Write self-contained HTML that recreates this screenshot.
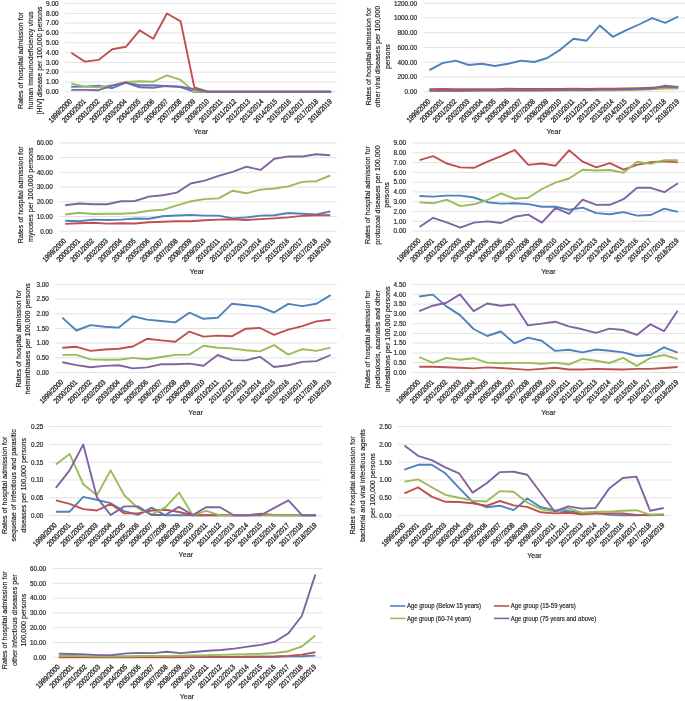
<!DOCTYPE html>
<html><head><meta charset="utf-8"><style>
html,body{margin:0;padding:0;background:#fff;}
body{width:685px;height:701px;overflow:hidden;}
svg{display:block;will-change:transform;}
.xl{stroke-width:0.3px;}
text{font-family:"Liberation Sans", sans-serif;fill:#262626;stroke:#262626;stroke-width:0.18px;}
</style></head><body>
<svg width="685" height="701" viewBox="0 0 685 701">
<rect width="685" height="701" fill="#fff"/>
<line x1="65.0" y1="91.80" x2="337.0" y2="91.80" stroke="#E2E2E2" stroke-width="1"/>
<line x1="65.0" y1="82.00" x2="337.0" y2="82.00" stroke="#E2E2E2" stroke-width="1"/>
<line x1="65.0" y1="72.19" x2="337.0" y2="72.19" stroke="#E2E2E2" stroke-width="1"/>
<line x1="65.0" y1="62.39" x2="337.0" y2="62.39" stroke="#E2E2E2" stroke-width="1"/>
<line x1="65.0" y1="52.58" x2="337.0" y2="52.58" stroke="#E2E2E2" stroke-width="1"/>
<line x1="65.0" y1="42.78" x2="337.0" y2="42.78" stroke="#E2E2E2" stroke-width="1"/>
<line x1="65.0" y1="32.97" x2="337.0" y2="32.97" stroke="#E2E2E2" stroke-width="1"/>
<line x1="65.0" y1="23.17" x2="337.0" y2="23.17" stroke="#E2E2E2" stroke-width="1"/>
<line x1="65.0" y1="13.36" x2="337.0" y2="13.36" stroke="#E2E2E2" stroke-width="1"/>
<line x1="65.0" y1="3.56" x2="337.0" y2="3.56" stroke="#E2E2E2" stroke-width="1"/>
<text x="58.5" y="94.10" text-anchor="end" font-size="6.40">0.00</text>
<text x="58.5" y="84.30" text-anchor="end" font-size="6.40">1.00</text>
<text x="58.5" y="74.49" text-anchor="end" font-size="6.40">2.00</text>
<text x="58.5" y="64.69" text-anchor="end" font-size="6.40">3.00</text>
<text x="58.5" y="54.88" text-anchor="end" font-size="6.40">4.00</text>
<text x="58.5" y="45.08" text-anchor="end" font-size="6.40">5.00</text>
<text x="58.5" y="35.27" text-anchor="end" font-size="6.40">6.00</text>
<text x="58.5" y="25.47" text-anchor="end" font-size="6.40">7.00</text>
<text x="58.5" y="15.66" text-anchor="end" font-size="6.40">8.00</text>
<text x="58.5" y="5.86" text-anchor="end" font-size="6.40">9.00</text>
<text x="72.6" y="102.0" text-anchor="end" class="xl" font-size="7.40" textLength="30.0" lengthAdjust="spacingAndGlyphs" transform="rotate(-45 72.6 102.0)">1999/2000</text>
<text x="86.3" y="102.0" text-anchor="end" class="xl" font-size="7.40" textLength="30.0" lengthAdjust="spacingAndGlyphs" transform="rotate(-45 86.3 102.0)">2000/2001</text>
<text x="100.0" y="102.0" text-anchor="end" class="xl" font-size="7.40" textLength="30.0" lengthAdjust="spacingAndGlyphs" transform="rotate(-45 100.0 102.0)">2001/2002</text>
<text x="113.6" y="102.0" text-anchor="end" class="xl" font-size="7.40" textLength="30.0" lengthAdjust="spacingAndGlyphs" transform="rotate(-45 113.6 102.0)">2002/2003</text>
<text x="127.3" y="102.0" text-anchor="end" class="xl" font-size="7.40" textLength="30.0" lengthAdjust="spacingAndGlyphs" transform="rotate(-45 127.3 102.0)">2003/2004</text>
<text x="141.0" y="102.0" text-anchor="end" class="xl" font-size="7.40" textLength="30.0" lengthAdjust="spacingAndGlyphs" transform="rotate(-45 141.0 102.0)">2004/2005</text>
<text x="154.7" y="102.0" text-anchor="end" class="xl" font-size="7.40" textLength="30.0" lengthAdjust="spacingAndGlyphs" transform="rotate(-45 154.7 102.0)">2005/2006</text>
<text x="168.4" y="102.0" text-anchor="end" class="xl" font-size="7.40" textLength="30.0" lengthAdjust="spacingAndGlyphs" transform="rotate(-45 168.4 102.0)">2006/2007</text>
<text x="182.0" y="102.0" text-anchor="end" class="xl" font-size="7.40" textLength="30.0" lengthAdjust="spacingAndGlyphs" transform="rotate(-45 182.0 102.0)">2007/2008</text>
<text x="195.7" y="102.0" text-anchor="end" class="xl" font-size="7.40" textLength="30.0" lengthAdjust="spacingAndGlyphs" transform="rotate(-45 195.7 102.0)">2008/2009</text>
<text x="209.4" y="102.0" text-anchor="end" class="xl" font-size="7.40" textLength="30.0" lengthAdjust="spacingAndGlyphs" transform="rotate(-45 209.4 102.0)">2009/2010</text>
<text x="223.1" y="102.0" text-anchor="end" class="xl" font-size="7.40" textLength="30.0" lengthAdjust="spacingAndGlyphs" transform="rotate(-45 223.1 102.0)">2010/2011</text>
<text x="236.8" y="102.0" text-anchor="end" class="xl" font-size="7.40" textLength="30.0" lengthAdjust="spacingAndGlyphs" transform="rotate(-45 236.8 102.0)">2011/2012</text>
<text x="250.4" y="102.0" text-anchor="end" class="xl" font-size="7.40" textLength="30.0" lengthAdjust="spacingAndGlyphs" transform="rotate(-45 250.4 102.0)">2012/2013</text>
<text x="264.1" y="102.0" text-anchor="end" class="xl" font-size="7.40" textLength="30.0" lengthAdjust="spacingAndGlyphs" transform="rotate(-45 264.1 102.0)">2013/2014</text>
<text x="277.8" y="102.0" text-anchor="end" class="xl" font-size="7.40" textLength="30.0" lengthAdjust="spacingAndGlyphs" transform="rotate(-45 277.8 102.0)">2014/2015</text>
<text x="291.5" y="102.0" text-anchor="end" class="xl" font-size="7.40" textLength="30.0" lengthAdjust="spacingAndGlyphs" transform="rotate(-45 291.5 102.0)">2015/2016</text>
<text x="305.2" y="102.0" text-anchor="end" class="xl" font-size="7.40" textLength="30.0" lengthAdjust="spacingAndGlyphs" transform="rotate(-45 305.2 102.0)">2016/2017</text>
<text x="318.8" y="102.0" text-anchor="end" class="xl" font-size="7.40" textLength="30.0" lengthAdjust="spacingAndGlyphs" transform="rotate(-45 318.8 102.0)">2017/2018</text>
<text x="332.5" y="102.0" text-anchor="end" class="xl" font-size="7.40" textLength="30.0" lengthAdjust="spacingAndGlyphs" transform="rotate(-45 332.5 102.0)">2018/2019</text>
<text x="22.6" y="60.5" text-anchor="middle" font-size="7.50" transform="rotate(-90 22.6 60.5)" textLength="96.9" lengthAdjust="spacingAndGlyphs">Rates of hospital admission for</text>
<text x="32.9" y="60.5" text-anchor="middle" font-size="7.50" transform="rotate(-90 32.9 60.5)" textLength="98.0" lengthAdjust="spacingAndGlyphs">human immunodeficiency virus</text>
<text x="42.1" y="60.5" text-anchor="middle" font-size="7.50" transform="rotate(-90 42.1 60.5)" textLength="107.8" lengthAdjust="spacingAndGlyphs">[HIV] disease per 100,000 persons</text>
<text x="201.0" y="133.8" text-anchor="middle" font-size="7.70" textLength="14.5" lengthAdjust="spacingAndGlyphs">Year</text>
<polyline points="71.20,86.70 84.88,86.60 98.56,85.60 112.24,88.20 125.92,82.70 139.60,85.20 153.28,85.20 166.96,86.30 180.64,87.00 194.32,91.80 208.00,91.80 221.68,91.80 235.36,91.80 249.04,91.80 262.72,91.80 276.40,91.80 290.08,91.80 303.76,91.80 317.44,91.80 331.12,91.80" fill="none" stroke="#4F81BD" stroke-width="1.90" stroke-linejoin="round" stroke-linecap="butt"/>
<polyline points="71.20,52.80 84.88,61.60 98.56,59.90 112.24,49.20 125.92,46.80 139.60,30.40 153.28,38.80 166.96,13.55 180.64,21.40 194.32,87.30 208.00,91.70 221.68,91.80 235.36,91.80 249.04,91.80 262.72,91.80 276.40,91.80 290.08,91.80 303.76,91.80 317.44,91.80 331.12,91.80" fill="none" stroke="#C0504D" stroke-width="1.90" stroke-linejoin="round" stroke-linecap="butt"/>
<polyline points="71.20,83.50 84.88,86.60 98.56,87.40 112.24,85.30 125.92,82.00 139.60,81.30 153.28,81.70 166.96,75.30 180.64,79.90 194.32,91.70 208.00,91.80 221.68,91.80 235.36,91.80 249.04,91.80 262.72,91.80 276.40,91.80 290.08,91.80 303.76,91.80 317.44,91.80 331.12,91.80" fill="none" stroke="#9BBB59" stroke-width="1.90" stroke-linejoin="round" stroke-linecap="butt"/>
<polyline points="71.20,89.90 84.88,89.90 98.56,90.20 112.24,85.60 125.92,82.50 139.60,87.30 153.28,87.70 166.96,85.90 180.64,86.60 194.32,89.20 208.00,91.70 221.68,91.80 235.36,91.80 249.04,91.80 262.72,91.80 276.40,91.80 290.08,91.80 303.76,91.80 317.44,91.80 331.12,91.80" fill="none" stroke="#8064A2" stroke-width="1.90" stroke-linejoin="round" stroke-linecap="butt"/>
<line x1="423.4" y1="91.70" x2="685.0" y2="91.70" stroke="#E2E2E2" stroke-width="1"/>
<line x1="423.4" y1="76.95" x2="685.0" y2="76.95" stroke="#E2E2E2" stroke-width="1"/>
<line x1="423.4" y1="62.20" x2="685.0" y2="62.20" stroke="#E2E2E2" stroke-width="1"/>
<line x1="423.4" y1="47.45" x2="685.0" y2="47.45" stroke="#E2E2E2" stroke-width="1"/>
<line x1="423.4" y1="32.70" x2="685.0" y2="32.70" stroke="#E2E2E2" stroke-width="1"/>
<line x1="423.4" y1="17.95" x2="685.0" y2="17.95" stroke="#E2E2E2" stroke-width="1"/>
<line x1="423.4" y1="3.20" x2="685.0" y2="3.20" stroke="#E2E2E2" stroke-width="1"/>
<text x="417.0" y="94.00" text-anchor="end" font-size="6.40">0.00</text>
<text x="417.0" y="79.25" text-anchor="end" font-size="6.40">200.00</text>
<text x="417.0" y="64.50" text-anchor="end" font-size="6.40">400.00</text>
<text x="417.0" y="49.75" text-anchor="end" font-size="6.40">600.00</text>
<text x="417.0" y="35.00" text-anchor="end" font-size="6.40">800.00</text>
<text x="417.0" y="20.25" text-anchor="end" font-size="6.40">1000.00</text>
<text x="417.0" y="5.50" text-anchor="end" font-size="6.40">1200.00</text>
<text x="430.8" y="101.9" text-anchor="end" class="xl" font-size="7.40" textLength="30.0" lengthAdjust="spacingAndGlyphs" transform="rotate(-45 430.8 101.9)">1999/2000</text>
<text x="443.9" y="101.9" text-anchor="end" class="xl" font-size="7.40" textLength="30.0" lengthAdjust="spacingAndGlyphs" transform="rotate(-45 443.9 101.9)">2000/2001</text>
<text x="457.0" y="101.9" text-anchor="end" class="xl" font-size="7.40" textLength="30.0" lengthAdjust="spacingAndGlyphs" transform="rotate(-45 457.0 101.9)">2001/2002</text>
<text x="470.1" y="101.9" text-anchor="end" class="xl" font-size="7.40" textLength="30.0" lengthAdjust="spacingAndGlyphs" transform="rotate(-45 470.1 101.9)">2002/2003</text>
<text x="483.2" y="101.9" text-anchor="end" class="xl" font-size="7.40" textLength="30.0" lengthAdjust="spacingAndGlyphs" transform="rotate(-45 483.2 101.9)">2003/2004</text>
<text x="496.3" y="101.9" text-anchor="end" class="xl" font-size="7.40" textLength="30.0" lengthAdjust="spacingAndGlyphs" transform="rotate(-45 496.3 101.9)">2004/2005</text>
<text x="509.4" y="101.9" text-anchor="end" class="xl" font-size="7.40" textLength="30.0" lengthAdjust="spacingAndGlyphs" transform="rotate(-45 509.4 101.9)">2005/2006</text>
<text x="522.5" y="101.9" text-anchor="end" class="xl" font-size="7.40" textLength="30.0" lengthAdjust="spacingAndGlyphs" transform="rotate(-45 522.5 101.9)">2006/2007</text>
<text x="535.6" y="101.9" text-anchor="end" class="xl" font-size="7.40" textLength="30.0" lengthAdjust="spacingAndGlyphs" transform="rotate(-45 535.6 101.9)">2007/2008</text>
<text x="548.7" y="101.9" text-anchor="end" class="xl" font-size="7.40" textLength="30.0" lengthAdjust="spacingAndGlyphs" transform="rotate(-45 548.7 101.9)">2008/2009</text>
<text x="561.8" y="101.9" text-anchor="end" class="xl" font-size="7.40" textLength="30.0" lengthAdjust="spacingAndGlyphs" transform="rotate(-45 561.8 101.9)">2009/2010</text>
<text x="574.9" y="101.9" text-anchor="end" class="xl" font-size="7.40" textLength="30.0" lengthAdjust="spacingAndGlyphs" transform="rotate(-45 574.9 101.9)">2010/2011</text>
<text x="588.0" y="101.9" text-anchor="end" class="xl" font-size="7.40" textLength="30.0" lengthAdjust="spacingAndGlyphs" transform="rotate(-45 588.0 101.9)">2011/2012</text>
<text x="601.1" y="101.9" text-anchor="end" class="xl" font-size="7.40" textLength="30.0" lengthAdjust="spacingAndGlyphs" transform="rotate(-45 601.1 101.9)">2012/2013</text>
<text x="614.2" y="101.9" text-anchor="end" class="xl" font-size="7.40" textLength="30.0" lengthAdjust="spacingAndGlyphs" transform="rotate(-45 614.2 101.9)">2013/2014</text>
<text x="627.3" y="101.9" text-anchor="end" class="xl" font-size="7.40" textLength="30.0" lengthAdjust="spacingAndGlyphs" transform="rotate(-45 627.3 101.9)">2014/2015</text>
<text x="640.4" y="101.9" text-anchor="end" class="xl" font-size="7.40" textLength="30.0" lengthAdjust="spacingAndGlyphs" transform="rotate(-45 640.4 101.9)">2015/2016</text>
<text x="653.5" y="101.9" text-anchor="end" class="xl" font-size="7.40" textLength="30.0" lengthAdjust="spacingAndGlyphs" transform="rotate(-45 653.5 101.9)">2016/2017</text>
<text x="666.6" y="101.9" text-anchor="end" class="xl" font-size="7.40" textLength="30.0" lengthAdjust="spacingAndGlyphs" transform="rotate(-45 666.6 101.9)">2017/2018</text>
<text x="679.7" y="101.9" text-anchor="end" class="xl" font-size="7.40" textLength="30.0" lengthAdjust="spacingAndGlyphs" transform="rotate(-45 679.7 101.9)">2018/2019</text>
<text x="370.8" y="56.6" text-anchor="middle" font-size="7.50" transform="rotate(-90 370.8 56.6)" textLength="98.0" lengthAdjust="spacingAndGlyphs">Rates of hospital admission for</text>
<text x="380.2" y="56.6" text-anchor="middle" font-size="7.50" transform="rotate(-90 380.2 56.6)" textLength="101.6" lengthAdjust="spacingAndGlyphs">other viral diseases per 100,000</text>
<text x="389.7" y="56.6" text-anchor="middle" font-size="7.50" transform="rotate(-90 389.7 56.6)" textLength="24.8" lengthAdjust="spacingAndGlyphs">persons</text>
<text x="553.7" y="133.8" text-anchor="middle" font-size="7.70" textLength="14.5" lengthAdjust="spacingAndGlyphs">Year</text>
<polyline points="429.40,70.10 442.50,63.10 455.60,60.60 468.70,65.00 481.80,63.80 494.90,66.00 508.00,63.80 521.10,60.60 534.20,62.00 547.30,58.00 560.40,49.60 573.50,38.70 586.60,40.70 599.70,25.50 612.80,36.80 625.90,30.40 639.00,24.50 652.10,18.20 665.20,22.90 678.30,16.50" fill="none" stroke="#4F81BD" stroke-width="1.90" stroke-linejoin="round" stroke-linecap="butt"/>
<polyline points="429.40,89.20 442.50,89.00 455.60,89.10 468.70,89.30 481.80,89.20 494.90,89.10 508.00,88.80 521.10,89.00 534.20,89.00 547.30,89.00 560.40,88.90 573.50,88.80 586.60,89.00 599.70,88.60 612.80,88.80 625.90,88.50 639.00,88.20 652.10,87.80 665.20,87.20 678.30,87.30" fill="none" stroke="#C0504D" stroke-width="1.90" stroke-linejoin="round" stroke-linecap="butt"/>
<polyline points="429.40,91.00 442.50,91.00 455.60,91.00 468.70,91.00 481.80,90.90 494.90,90.90 508.00,90.80 521.10,90.80 534.20,90.70 547.30,90.70 560.40,90.60 573.50,90.60 586.60,90.50 599.70,90.30 612.80,90.20 625.90,90.00 639.00,89.80 652.10,89.40 665.20,88.60 678.30,88.60" fill="none" stroke="#9BBB59" stroke-width="1.90" stroke-linejoin="round" stroke-linecap="butt"/>
<polyline points="429.40,90.50 442.50,90.70 455.60,90.70 468.70,90.60 481.80,90.40 494.90,90.40 508.00,90.30 521.10,90.30 534.20,90.20 547.30,90.10 560.40,90.00 573.50,89.90 586.60,90.00 599.70,89.60 612.80,89.60 625.90,89.30 639.00,89.00 652.10,88.50 665.20,85.80 678.30,86.90" fill="none" stroke="#8064A2" stroke-width="1.90" stroke-linejoin="round" stroke-linecap="butt"/>
<line x1="59.1" y1="231.20" x2="337.0" y2="231.20" stroke="#E2E2E2" stroke-width="1"/>
<line x1="59.1" y1="216.48" x2="337.0" y2="216.48" stroke="#E2E2E2" stroke-width="1"/>
<line x1="59.1" y1="201.77" x2="337.0" y2="201.77" stroke="#E2E2E2" stroke-width="1"/>
<line x1="59.1" y1="187.05" x2="337.0" y2="187.05" stroke="#E2E2E2" stroke-width="1"/>
<line x1="59.1" y1="172.33" x2="337.0" y2="172.33" stroke="#E2E2E2" stroke-width="1"/>
<line x1="59.1" y1="157.62" x2="337.0" y2="157.62" stroke="#E2E2E2" stroke-width="1"/>
<line x1="59.1" y1="142.90" x2="337.0" y2="142.90" stroke="#E2E2E2" stroke-width="1"/>
<text x="52.7" y="233.50" text-anchor="end" font-size="6.40">0.00</text>
<text x="52.7" y="218.78" text-anchor="end" font-size="6.40">10.00</text>
<text x="52.7" y="204.07" text-anchor="end" font-size="6.40">20.00</text>
<text x="52.7" y="189.35" text-anchor="end" font-size="6.40">30.00</text>
<text x="52.7" y="174.63" text-anchor="end" font-size="6.40">40.00</text>
<text x="52.7" y="159.92" text-anchor="end" font-size="6.40">50.00</text>
<text x="52.7" y="145.20" text-anchor="end" font-size="6.40">60.00</text>
<text x="66.6" y="241.4" text-anchor="end" class="xl" font-size="7.40" textLength="30.0" lengthAdjust="spacingAndGlyphs" transform="rotate(-45 66.6 241.4)">1999/2000</text>
<text x="80.6" y="241.4" text-anchor="end" class="xl" font-size="7.40" textLength="30.0" lengthAdjust="spacingAndGlyphs" transform="rotate(-45 80.6 241.4)">2000/2001</text>
<text x="94.5" y="241.4" text-anchor="end" class="xl" font-size="7.40" textLength="30.0" lengthAdjust="spacingAndGlyphs" transform="rotate(-45 94.5 241.4)">2001/2002</text>
<text x="108.5" y="241.4" text-anchor="end" class="xl" font-size="7.40" textLength="30.0" lengthAdjust="spacingAndGlyphs" transform="rotate(-45 108.5 241.4)">2002/2003</text>
<text x="122.4" y="241.4" text-anchor="end" class="xl" font-size="7.40" textLength="30.0" lengthAdjust="spacingAndGlyphs" transform="rotate(-45 122.4 241.4)">2003/2004</text>
<text x="136.3" y="241.4" text-anchor="end" class="xl" font-size="7.40" textLength="30.0" lengthAdjust="spacingAndGlyphs" transform="rotate(-45 136.3 241.4)">2004/2005</text>
<text x="150.3" y="241.4" text-anchor="end" class="xl" font-size="7.40" textLength="30.0" lengthAdjust="spacingAndGlyphs" transform="rotate(-45 150.3 241.4)">2005/2006</text>
<text x="164.2" y="241.4" text-anchor="end" class="xl" font-size="7.40" textLength="30.0" lengthAdjust="spacingAndGlyphs" transform="rotate(-45 164.2 241.4)">2006/2007</text>
<text x="178.2" y="241.4" text-anchor="end" class="xl" font-size="7.40" textLength="30.0" lengthAdjust="spacingAndGlyphs" transform="rotate(-45 178.2 241.4)">2007/2008</text>
<text x="192.2" y="241.4" text-anchor="end" class="xl" font-size="7.40" textLength="30.0" lengthAdjust="spacingAndGlyphs" transform="rotate(-45 192.2 241.4)">2008/2009</text>
<text x="206.1" y="241.4" text-anchor="end" class="xl" font-size="7.40" textLength="30.0" lengthAdjust="spacingAndGlyphs" transform="rotate(-45 206.1 241.4)">2009/2010</text>
<text x="220.0" y="241.4" text-anchor="end" class="xl" font-size="7.40" textLength="30.0" lengthAdjust="spacingAndGlyphs" transform="rotate(-45 220.0 241.4)">2010/2011</text>
<text x="234.0" y="241.4" text-anchor="end" class="xl" font-size="7.40" textLength="30.0" lengthAdjust="spacingAndGlyphs" transform="rotate(-45 234.0 241.4)">2011/2012</text>
<text x="248.0" y="241.4" text-anchor="end" class="xl" font-size="7.40" textLength="30.0" lengthAdjust="spacingAndGlyphs" transform="rotate(-45 248.0 241.4)">2012/2013</text>
<text x="261.9" y="241.4" text-anchor="end" class="xl" font-size="7.40" textLength="30.0" lengthAdjust="spacingAndGlyphs" transform="rotate(-45 261.9 241.4)">2013/2014</text>
<text x="275.8" y="241.4" text-anchor="end" class="xl" font-size="7.40" textLength="30.0" lengthAdjust="spacingAndGlyphs" transform="rotate(-45 275.8 241.4)">2014/2015</text>
<text x="289.8" y="241.4" text-anchor="end" class="xl" font-size="7.40" textLength="30.0" lengthAdjust="spacingAndGlyphs" transform="rotate(-45 289.8 241.4)">2015/2016</text>
<text x="303.7" y="241.4" text-anchor="end" class="xl" font-size="7.40" textLength="30.0" lengthAdjust="spacingAndGlyphs" transform="rotate(-45 303.7 241.4)">2016/2017</text>
<text x="317.7" y="241.4" text-anchor="end" class="xl" font-size="7.40" textLength="30.0" lengthAdjust="spacingAndGlyphs" transform="rotate(-45 317.7 241.4)">2017/2018</text>
<text x="331.6" y="241.4" text-anchor="end" class="xl" font-size="7.40" textLength="30.0" lengthAdjust="spacingAndGlyphs" transform="rotate(-45 331.6 241.4)">2018/2019</text>
<text x="22.8" y="194.8" text-anchor="middle" font-size="7.50" transform="rotate(-90 22.8 194.8)" textLength="96.7" lengthAdjust="spacingAndGlyphs">Rates of hospital admission for</text>
<text x="33.0" y="194.8" text-anchor="middle" font-size="7.50" transform="rotate(-90 33.0 194.8)" textLength="94.4" lengthAdjust="spacingAndGlyphs">mycoses per 100,000 persons</text>
<text x="197.0" y="274.3" text-anchor="middle" font-size="7.70" textLength="14.5" lengthAdjust="spacingAndGlyphs">Year</text>
<polyline points="65.20,220.70 79.15,221.30 93.10,219.60 107.05,220.00 121.00,219.60 134.95,218.50 148.90,218.80 162.85,216.20 176.80,215.50 190.75,214.90 204.70,215.60 218.65,215.60 232.60,218.40 246.55,217.40 260.50,215.60 274.45,215.20 288.40,213.00 302.35,213.70 316.30,214.50 330.25,211.50" fill="none" stroke="#4F81BD" stroke-width="1.90" stroke-linejoin="round" stroke-linecap="butt"/>
<polyline points="65.20,223.90 79.15,223.20 93.10,222.80 107.05,223.60 121.00,223.20 134.95,223.50 148.90,222.20 162.85,221.80 176.80,221.30 190.75,221.30 204.70,220.30 218.65,219.60 232.60,219.30 246.55,220.00 260.50,219.10 274.45,218.40 288.40,217.40 302.35,215.90 316.30,215.20 330.25,215.20" fill="none" stroke="#C0504D" stroke-width="1.90" stroke-linejoin="round" stroke-linecap="butt"/>
<polyline points="65.20,214.50 79.15,212.70 93.10,214.00 107.05,213.70 121.00,213.70 134.95,213.00 148.90,210.80 162.85,209.80 176.80,205.30 190.75,201.30 204.70,199.10 218.65,198.40 232.60,190.70 246.55,193.30 260.50,189.60 274.45,188.50 288.40,186.40 302.35,181.90 316.30,181.20 330.25,175.50" fill="none" stroke="#9BBB59" stroke-width="1.90" stroke-linejoin="round" stroke-linecap="butt"/>
<polyline points="65.20,205.30 79.15,203.50 93.10,204.20 107.05,204.20 121.00,201.30 134.95,201.00 148.90,196.60 162.85,195.20 176.80,192.60 190.75,183.50 204.70,180.60 218.65,175.80 232.60,171.80 246.55,166.70 260.50,169.90 274.45,158.70 288.40,156.40 302.35,156.50 316.30,154.20 330.25,155.30" fill="none" stroke="#8064A2" stroke-width="1.90" stroke-linejoin="round" stroke-linecap="butt"/>
<line x1="412.9" y1="231.10" x2="685.0" y2="231.10" stroke="#E2E2E2" stroke-width="1"/>
<line x1="412.9" y1="221.31" x2="685.0" y2="221.31" stroke="#E2E2E2" stroke-width="1"/>
<line x1="412.9" y1="211.52" x2="685.0" y2="211.52" stroke="#E2E2E2" stroke-width="1"/>
<line x1="412.9" y1="201.73" x2="685.0" y2="201.73" stroke="#E2E2E2" stroke-width="1"/>
<line x1="412.9" y1="191.94" x2="685.0" y2="191.94" stroke="#E2E2E2" stroke-width="1"/>
<line x1="412.9" y1="182.16" x2="685.0" y2="182.16" stroke="#E2E2E2" stroke-width="1"/>
<line x1="412.9" y1="172.37" x2="685.0" y2="172.37" stroke="#E2E2E2" stroke-width="1"/>
<line x1="412.9" y1="162.58" x2="685.0" y2="162.58" stroke="#E2E2E2" stroke-width="1"/>
<line x1="412.9" y1="152.79" x2="685.0" y2="152.79" stroke="#E2E2E2" stroke-width="1"/>
<line x1="412.9" y1="143.00" x2="685.0" y2="143.00" stroke="#E2E2E2" stroke-width="1"/>
<text x="406.0" y="233.40" text-anchor="end" font-size="6.40">0.00</text>
<text x="406.0" y="223.61" text-anchor="end" font-size="6.40">1.00</text>
<text x="406.0" y="213.82" text-anchor="end" font-size="6.40">2.00</text>
<text x="406.0" y="204.03" text-anchor="end" font-size="6.40">3.00</text>
<text x="406.0" y="194.24" text-anchor="end" font-size="6.40">4.00</text>
<text x="406.0" y="184.46" text-anchor="end" font-size="6.40">5.00</text>
<text x="406.0" y="174.67" text-anchor="end" font-size="6.40">6.00</text>
<text x="406.0" y="164.88" text-anchor="end" font-size="6.40">7.00</text>
<text x="406.0" y="155.09" text-anchor="end" font-size="6.40">8.00</text>
<text x="406.0" y="145.30" text-anchor="end" font-size="6.40">9.00</text>
<text x="420.9" y="241.3" text-anchor="end" class="xl" font-size="7.40" textLength="30.0" lengthAdjust="spacingAndGlyphs" transform="rotate(-45 420.9 241.3)">1999/2000</text>
<text x="434.5" y="241.3" text-anchor="end" class="xl" font-size="7.40" textLength="30.0" lengthAdjust="spacingAndGlyphs" transform="rotate(-45 434.5 241.3)">2000/2001</text>
<text x="448.1" y="241.3" text-anchor="end" class="xl" font-size="7.40" textLength="30.0" lengthAdjust="spacingAndGlyphs" transform="rotate(-45 448.1 241.3)">2001/2002</text>
<text x="461.7" y="241.3" text-anchor="end" class="xl" font-size="7.40" textLength="30.0" lengthAdjust="spacingAndGlyphs" transform="rotate(-45 461.7 241.3)">2002/2003</text>
<text x="475.3" y="241.3" text-anchor="end" class="xl" font-size="7.40" textLength="30.0" lengthAdjust="spacingAndGlyphs" transform="rotate(-45 475.3 241.3)">2003/2004</text>
<text x="488.9" y="241.3" text-anchor="end" class="xl" font-size="7.40" textLength="30.0" lengthAdjust="spacingAndGlyphs" transform="rotate(-45 488.9 241.3)">2004/2005</text>
<text x="502.5" y="241.3" text-anchor="end" class="xl" font-size="7.40" textLength="30.0" lengthAdjust="spacingAndGlyphs" transform="rotate(-45 502.5 241.3)">2005/2006</text>
<text x="516.1" y="241.3" text-anchor="end" class="xl" font-size="7.40" textLength="30.0" lengthAdjust="spacingAndGlyphs" transform="rotate(-45 516.1 241.3)">2006/2007</text>
<text x="529.7" y="241.3" text-anchor="end" class="xl" font-size="7.40" textLength="30.0" lengthAdjust="spacingAndGlyphs" transform="rotate(-45 529.7 241.3)">2007/2008</text>
<text x="543.3" y="241.3" text-anchor="end" class="xl" font-size="7.40" textLength="30.0" lengthAdjust="spacingAndGlyphs" transform="rotate(-45 543.3 241.3)">2008/2009</text>
<text x="556.9" y="241.3" text-anchor="end" class="xl" font-size="7.40" textLength="30.0" lengthAdjust="spacingAndGlyphs" transform="rotate(-45 556.9 241.3)">2009/2010</text>
<text x="570.5" y="241.3" text-anchor="end" class="xl" font-size="7.40" textLength="30.0" lengthAdjust="spacingAndGlyphs" transform="rotate(-45 570.5 241.3)">2010/2011</text>
<text x="584.1" y="241.3" text-anchor="end" class="xl" font-size="7.40" textLength="30.0" lengthAdjust="spacingAndGlyphs" transform="rotate(-45 584.1 241.3)">2011/2012</text>
<text x="597.7" y="241.3" text-anchor="end" class="xl" font-size="7.40" textLength="30.0" lengthAdjust="spacingAndGlyphs" transform="rotate(-45 597.7 241.3)">2012/2013</text>
<text x="611.3" y="241.3" text-anchor="end" class="xl" font-size="7.40" textLength="30.0" lengthAdjust="spacingAndGlyphs" transform="rotate(-45 611.3 241.3)">2013/2014</text>
<text x="624.9" y="241.3" text-anchor="end" class="xl" font-size="7.40" textLength="30.0" lengthAdjust="spacingAndGlyphs" transform="rotate(-45 624.9 241.3)">2014/2015</text>
<text x="638.5" y="241.3" text-anchor="end" class="xl" font-size="7.40" textLength="30.0" lengthAdjust="spacingAndGlyphs" transform="rotate(-45 638.5 241.3)">2015/2016</text>
<text x="652.1" y="241.3" text-anchor="end" class="xl" font-size="7.40" textLength="30.0" lengthAdjust="spacingAndGlyphs" transform="rotate(-45 652.1 241.3)">2016/2017</text>
<text x="665.7" y="241.3" text-anchor="end" class="xl" font-size="7.40" textLength="30.0" lengthAdjust="spacingAndGlyphs" transform="rotate(-45 665.7 241.3)">2017/2018</text>
<text x="679.3" y="241.3" text-anchor="end" class="xl" font-size="7.40" textLength="30.0" lengthAdjust="spacingAndGlyphs" transform="rotate(-45 679.3 241.3)">2018/2019</text>
<text x="370.0" y="195.0" text-anchor="middle" font-size="7.50" transform="rotate(-90 370.0 195.0)" textLength="97.9" lengthAdjust="spacingAndGlyphs">Rates of hospital admission for</text>
<text x="379.8" y="195.0" text-anchor="middle" font-size="7.50" transform="rotate(-90 379.8 195.0)" textLength="99.3" lengthAdjust="spacingAndGlyphs">protozoal diseases per 100,000</text>
<text x="389.3" y="195.0" text-anchor="middle" font-size="7.50" transform="rotate(-90 389.3 195.0)" textLength="25.7" lengthAdjust="spacingAndGlyphs">persons</text>
<text x="548.5" y="273.6" text-anchor="middle" font-size="7.70" textLength="14.5" lengthAdjust="spacingAndGlyphs">Year</text>
<polyline points="419.50,196.00 433.10,196.60 446.70,195.60 460.30,195.60 473.90,197.50 487.50,202.20 501.10,203.60 514.70,203.30 528.30,204.10 541.90,206.80 555.50,206.80 569.10,209.70 582.70,207.60 596.30,213.10 609.90,214.30 623.50,212.10 637.10,215.60 650.70,215.00 664.30,208.70 677.90,211.90" fill="none" stroke="#4F81BD" stroke-width="1.90" stroke-linejoin="round" stroke-linecap="butt"/>
<polyline points="419.50,160.10 433.10,156.20 446.70,163.50 460.30,167.40 473.90,167.80 487.50,161.70 501.10,156.20 514.70,150.00 528.30,164.90 541.90,163.50 555.50,165.70 569.10,150.30 582.70,161.70 596.30,167.40 609.90,163.20 623.50,169.70 637.10,164.90 650.70,162.30 664.30,161.30 677.90,162.40" fill="none" stroke="#C0504D" stroke-width="1.90" stroke-linejoin="round" stroke-linecap="butt"/>
<polyline points="419.50,202.40 433.10,203.30 446.70,199.70 460.30,206.10 473.90,204.30 487.50,200.00 501.10,193.40 514.70,198.80 528.30,197.80 541.90,189.00 555.50,182.70 569.10,178.50 582.70,169.70 596.30,170.50 609.90,170.00 623.50,172.70 637.10,161.70 650.70,163.90 664.30,160.10 677.90,160.30" fill="none" stroke="#9BBB59" stroke-width="1.90" stroke-linejoin="round" stroke-linecap="butt"/>
<polyline points="419.50,227.00 433.10,217.80 446.70,222.30 460.30,227.70 473.90,222.60 487.50,221.40 501.10,223.00 514.70,216.80 528.30,214.60 541.90,222.60 555.50,208.00 569.10,213.80 582.70,199.70 596.30,204.90 609.90,204.80 623.50,199.20 637.10,187.80 650.70,187.80 664.30,192.20 677.90,183.20" fill="none" stroke="#8064A2" stroke-width="1.90" stroke-linejoin="round" stroke-linecap="butt"/>
<line x1="55.5" y1="372.50" x2="337.1" y2="372.50" stroke="#E2E2E2" stroke-width="1"/>
<line x1="55.5" y1="357.83" x2="337.1" y2="357.83" stroke="#E2E2E2" stroke-width="1"/>
<line x1="55.5" y1="343.17" x2="337.1" y2="343.17" stroke="#E2E2E2" stroke-width="1"/>
<line x1="55.5" y1="328.50" x2="337.1" y2="328.50" stroke="#E2E2E2" stroke-width="1"/>
<line x1="55.5" y1="313.83" x2="337.1" y2="313.83" stroke="#E2E2E2" stroke-width="1"/>
<line x1="55.5" y1="299.17" x2="337.1" y2="299.17" stroke="#E2E2E2" stroke-width="1"/>
<line x1="55.5" y1="284.50" x2="337.1" y2="284.50" stroke="#E2E2E2" stroke-width="1"/>
<text x="48.9" y="374.80" text-anchor="end" font-size="6.40">0.00</text>
<text x="48.9" y="360.13" text-anchor="end" font-size="6.40">0.50</text>
<text x="48.9" y="345.47" text-anchor="end" font-size="6.40">1.00</text>
<text x="48.9" y="330.80" text-anchor="end" font-size="6.40">1.50</text>
<text x="48.9" y="316.13" text-anchor="end" font-size="6.40">2.00</text>
<text x="48.9" y="301.47" text-anchor="end" font-size="6.40">2.50</text>
<text x="48.9" y="286.80" text-anchor="end" font-size="6.40">3.00</text>
<text x="63.7" y="382.7" text-anchor="end" class="xl" font-size="7.40" textLength="30.0" lengthAdjust="spacingAndGlyphs" transform="rotate(-45 63.7 382.7)">1999/2000</text>
<text x="77.8" y="382.7" text-anchor="end" class="xl" font-size="7.40" textLength="30.0" lengthAdjust="spacingAndGlyphs" transform="rotate(-45 77.8 382.7)">2000/2001</text>
<text x="91.9" y="382.7" text-anchor="end" class="xl" font-size="7.40" textLength="30.0" lengthAdjust="spacingAndGlyphs" transform="rotate(-45 91.9 382.7)">2001/2002</text>
<text x="106.1" y="382.7" text-anchor="end" class="xl" font-size="7.40" textLength="30.0" lengthAdjust="spacingAndGlyphs" transform="rotate(-45 106.1 382.7)">2002/2003</text>
<text x="120.2" y="382.7" text-anchor="end" class="xl" font-size="7.40" textLength="30.0" lengthAdjust="spacingAndGlyphs" transform="rotate(-45 120.2 382.7)">2003/2004</text>
<text x="134.3" y="382.7" text-anchor="end" class="xl" font-size="7.40" textLength="30.0" lengthAdjust="spacingAndGlyphs" transform="rotate(-45 134.3 382.7)">2004/2005</text>
<text x="148.4" y="382.7" text-anchor="end" class="xl" font-size="7.40" textLength="30.0" lengthAdjust="spacingAndGlyphs" transform="rotate(-45 148.4 382.7)">2005/2006</text>
<text x="162.5" y="382.7" text-anchor="end" class="xl" font-size="7.40" textLength="30.0" lengthAdjust="spacingAndGlyphs" transform="rotate(-45 162.5 382.7)">2006/2007</text>
<text x="176.7" y="382.7" text-anchor="end" class="xl" font-size="7.40" textLength="30.0" lengthAdjust="spacingAndGlyphs" transform="rotate(-45 176.7 382.7)">2007/2008</text>
<text x="190.8" y="382.7" text-anchor="end" class="xl" font-size="7.40" textLength="30.0" lengthAdjust="spacingAndGlyphs" transform="rotate(-45 190.8 382.7)">2008/2009</text>
<text x="204.9" y="382.7" text-anchor="end" class="xl" font-size="7.40" textLength="30.0" lengthAdjust="spacingAndGlyphs" transform="rotate(-45 204.9 382.7)">2009/2010</text>
<text x="219.0" y="382.7" text-anchor="end" class="xl" font-size="7.40" textLength="30.0" lengthAdjust="spacingAndGlyphs" transform="rotate(-45 219.0 382.7)">2010/2011</text>
<text x="233.1" y="382.7" text-anchor="end" class="xl" font-size="7.40" textLength="30.0" lengthAdjust="spacingAndGlyphs" transform="rotate(-45 233.1 382.7)">2011/2012</text>
<text x="247.3" y="382.7" text-anchor="end" class="xl" font-size="7.40" textLength="30.0" lengthAdjust="spacingAndGlyphs" transform="rotate(-45 247.3 382.7)">2012/2013</text>
<text x="261.4" y="382.7" text-anchor="end" class="xl" font-size="7.40" textLength="30.0" lengthAdjust="spacingAndGlyphs" transform="rotate(-45 261.4 382.7)">2013/2014</text>
<text x="275.5" y="382.7" text-anchor="end" class="xl" font-size="7.40" textLength="30.0" lengthAdjust="spacingAndGlyphs" transform="rotate(-45 275.5 382.7)">2014/2015</text>
<text x="289.6" y="382.7" text-anchor="end" class="xl" font-size="7.40" textLength="30.0" lengthAdjust="spacingAndGlyphs" transform="rotate(-45 289.6 382.7)">2015/2016</text>
<text x="303.7" y="382.7" text-anchor="end" class="xl" font-size="7.40" textLength="30.0" lengthAdjust="spacingAndGlyphs" transform="rotate(-45 303.7 382.7)">2016/2017</text>
<text x="317.9" y="382.7" text-anchor="end" class="xl" font-size="7.40" textLength="30.0" lengthAdjust="spacingAndGlyphs" transform="rotate(-45 317.9 382.7)">2017/2018</text>
<text x="332.0" y="382.7" text-anchor="end" class="xl" font-size="7.40" textLength="30.0" lengthAdjust="spacingAndGlyphs" transform="rotate(-45 332.0 382.7)">2018/2019</text>
<text x="20.6" y="338.7" text-anchor="middle" font-size="7.50" transform="rotate(-90 20.6 338.7)" textLength="97.7" lengthAdjust="spacingAndGlyphs">Rates of hospital admission for</text>
<text x="30.4" y="338.7" text-anchor="middle" font-size="7.50" transform="rotate(-90 30.4 338.7)" textLength="111.0" lengthAdjust="spacingAndGlyphs">helminthiases per 100,000 persons</text>
<text x="195.6" y="415.3" text-anchor="middle" font-size="7.70" textLength="14.5" lengthAdjust="spacingAndGlyphs">Year</text>
<polyline points="62.30,317.60 76.42,330.50 90.54,325.10 104.66,326.80 118.78,327.60 132.90,316.30 147.02,319.60 161.14,321.00 175.26,322.40 189.38,312.70 203.50,318.80 217.62,317.80 231.74,303.80 245.86,305.20 259.98,306.80 274.10,312.50 288.22,303.90 302.34,306.10 316.46,303.80 330.58,295.10" fill="none" stroke="#4F81BD" stroke-width="1.90" stroke-linejoin="round" stroke-linecap="butt"/>
<polyline points="62.30,347.70 76.42,346.80 90.54,350.90 104.66,349.50 118.78,348.70 132.90,346.50 147.02,338.80 161.14,340.40 175.26,341.70 189.38,331.60 203.50,336.60 217.62,335.60 231.74,336.30 245.86,328.70 259.98,328.00 274.10,334.90 288.22,329.70 302.34,326.10 316.46,321.40 330.58,319.80" fill="none" stroke="#C0504D" stroke-width="1.90" stroke-linejoin="round" stroke-linecap="butt"/>
<polyline points="62.30,354.90 76.42,354.90 90.54,359.40 104.66,359.70 118.78,359.70 132.90,357.90 147.02,359.20 161.14,357.00 175.26,354.90 189.38,354.60 203.50,345.80 217.62,347.70 231.74,348.40 245.86,350.20 259.98,351.40 274.10,345.10 288.22,354.60 302.34,349.20 316.46,350.90 330.58,347.60" fill="none" stroke="#9BBB59" stroke-width="1.90" stroke-linejoin="round" stroke-linecap="butt"/>
<polyline points="62.30,362.20 76.42,365.10 90.54,367.30 104.66,365.90 118.78,365.20 132.90,368.40 147.02,367.40 161.14,364.30 175.26,364.30 189.38,363.60 203.50,365.80 217.62,355.00 231.74,360.10 245.86,360.40 259.98,356.80 274.10,367.00 288.22,365.20 302.34,361.90 316.46,361.10 330.58,355.00" fill="none" stroke="#8064A2" stroke-width="1.90" stroke-linejoin="round" stroke-linecap="butt"/>
<line x1="412.9" y1="372.50" x2="685.0" y2="372.50" stroke="#E2E2E2" stroke-width="1"/>
<line x1="412.9" y1="362.72" x2="685.0" y2="362.72" stroke="#E2E2E2" stroke-width="1"/>
<line x1="412.9" y1="352.94" x2="685.0" y2="352.94" stroke="#E2E2E2" stroke-width="1"/>
<line x1="412.9" y1="343.17" x2="685.0" y2="343.17" stroke="#E2E2E2" stroke-width="1"/>
<line x1="412.9" y1="333.39" x2="685.0" y2="333.39" stroke="#E2E2E2" stroke-width="1"/>
<line x1="412.9" y1="323.61" x2="685.0" y2="323.61" stroke="#E2E2E2" stroke-width="1"/>
<line x1="412.9" y1="313.83" x2="685.0" y2="313.83" stroke="#E2E2E2" stroke-width="1"/>
<line x1="412.9" y1="304.06" x2="685.0" y2="304.06" stroke="#E2E2E2" stroke-width="1"/>
<line x1="412.9" y1="294.28" x2="685.0" y2="294.28" stroke="#E2E2E2" stroke-width="1"/>
<line x1="412.9" y1="284.50" x2="685.0" y2="284.50" stroke="#E2E2E2" stroke-width="1"/>
<text x="406.0" y="374.80" text-anchor="end" font-size="6.40">0.00</text>
<text x="406.0" y="365.02" text-anchor="end" font-size="6.40">0.50</text>
<text x="406.0" y="355.24" text-anchor="end" font-size="6.40">1.00</text>
<text x="406.0" y="345.47" text-anchor="end" font-size="6.40">1.50</text>
<text x="406.0" y="335.69" text-anchor="end" font-size="6.40">2.00</text>
<text x="406.0" y="325.91" text-anchor="end" font-size="6.40">2.50</text>
<text x="406.0" y="316.13" text-anchor="end" font-size="6.40">3.00</text>
<text x="406.0" y="306.36" text-anchor="end" font-size="6.40">3.50</text>
<text x="406.0" y="296.58" text-anchor="end" font-size="6.40">4.00</text>
<text x="406.0" y="286.80" text-anchor="end" font-size="6.40">4.50</text>
<text x="420.6" y="382.7" text-anchor="end" class="xl" font-size="7.40" textLength="30.0" lengthAdjust="spacingAndGlyphs" transform="rotate(-45 420.6 382.7)">1999/2000</text>
<text x="434.2" y="382.7" text-anchor="end" class="xl" font-size="7.40" textLength="30.0" lengthAdjust="spacingAndGlyphs" transform="rotate(-45 434.2 382.7)">2000/2001</text>
<text x="447.8" y="382.7" text-anchor="end" class="xl" font-size="7.40" textLength="30.0" lengthAdjust="spacingAndGlyphs" transform="rotate(-45 447.8 382.7)">2001/2002</text>
<text x="461.4" y="382.7" text-anchor="end" class="xl" font-size="7.40" textLength="30.0" lengthAdjust="spacingAndGlyphs" transform="rotate(-45 461.4 382.7)">2002/2003</text>
<text x="475.0" y="382.7" text-anchor="end" class="xl" font-size="7.40" textLength="30.0" lengthAdjust="spacingAndGlyphs" transform="rotate(-45 475.0 382.7)">2003/2004</text>
<text x="488.6" y="382.7" text-anchor="end" class="xl" font-size="7.40" textLength="30.0" lengthAdjust="spacingAndGlyphs" transform="rotate(-45 488.6 382.7)">2004/2005</text>
<text x="502.2" y="382.7" text-anchor="end" class="xl" font-size="7.40" textLength="30.0" lengthAdjust="spacingAndGlyphs" transform="rotate(-45 502.2 382.7)">2005/2006</text>
<text x="515.8" y="382.7" text-anchor="end" class="xl" font-size="7.40" textLength="30.0" lengthAdjust="spacingAndGlyphs" transform="rotate(-45 515.8 382.7)">2006/2007</text>
<text x="529.4" y="382.7" text-anchor="end" class="xl" font-size="7.40" textLength="30.0" lengthAdjust="spacingAndGlyphs" transform="rotate(-45 529.4 382.7)">2007/2008</text>
<text x="543.0" y="382.7" text-anchor="end" class="xl" font-size="7.40" textLength="30.0" lengthAdjust="spacingAndGlyphs" transform="rotate(-45 543.0 382.7)">2008/2009</text>
<text x="556.6" y="382.7" text-anchor="end" class="xl" font-size="7.40" textLength="30.0" lengthAdjust="spacingAndGlyphs" transform="rotate(-45 556.6 382.7)">2009/2010</text>
<text x="570.2" y="382.7" text-anchor="end" class="xl" font-size="7.40" textLength="30.0" lengthAdjust="spacingAndGlyphs" transform="rotate(-45 570.2 382.7)">2010/2011</text>
<text x="583.8" y="382.7" text-anchor="end" class="xl" font-size="7.40" textLength="30.0" lengthAdjust="spacingAndGlyphs" transform="rotate(-45 583.8 382.7)">2011/2012</text>
<text x="597.4" y="382.7" text-anchor="end" class="xl" font-size="7.40" textLength="30.0" lengthAdjust="spacingAndGlyphs" transform="rotate(-45 597.4 382.7)">2012/2013</text>
<text x="611.0" y="382.7" text-anchor="end" class="xl" font-size="7.40" textLength="30.0" lengthAdjust="spacingAndGlyphs" transform="rotate(-45 611.0 382.7)">2013/2014</text>
<text x="624.6" y="382.7" text-anchor="end" class="xl" font-size="7.40" textLength="30.0" lengthAdjust="spacingAndGlyphs" transform="rotate(-45 624.6 382.7)">2014/2015</text>
<text x="638.2" y="382.7" text-anchor="end" class="xl" font-size="7.40" textLength="30.0" lengthAdjust="spacingAndGlyphs" transform="rotate(-45 638.2 382.7)">2015/2016</text>
<text x="651.8" y="382.7" text-anchor="end" class="xl" font-size="7.40" textLength="30.0" lengthAdjust="spacingAndGlyphs" transform="rotate(-45 651.8 382.7)">2016/2017</text>
<text x="665.4" y="382.7" text-anchor="end" class="xl" font-size="7.40" textLength="30.0" lengthAdjust="spacingAndGlyphs" transform="rotate(-45 665.4 382.7)">2017/2018</text>
<text x="679.0" y="382.7" text-anchor="end" class="xl" font-size="7.40" textLength="30.0" lengthAdjust="spacingAndGlyphs" transform="rotate(-45 679.0 382.7)">2018/2019</text>
<text x="370.5" y="339.2" text-anchor="middle" font-size="7.50" transform="rotate(-90 370.5 339.2)" textLength="97.9" lengthAdjust="spacingAndGlyphs">Rates of hospital admission for</text>
<text x="380.2" y="339.2" text-anchor="middle" font-size="7.50" transform="rotate(-90 380.2 339.2)" textLength="98.5" lengthAdjust="spacingAndGlyphs">pediculosis, acariasis and other</text>
<text x="389.7" y="339.2" text-anchor="middle" font-size="7.50" transform="rotate(-90 389.7 339.2)" textLength="105.7" lengthAdjust="spacingAndGlyphs">infestations per 100,000 persons</text>
<text x="548.5" y="414.8" text-anchor="middle" font-size="7.70" textLength="14.5" lengthAdjust="spacingAndGlyphs">Year</text>
<polyline points="419.20,296.50 432.80,294.60 446.40,306.40 460.00,315.10 473.60,329.00 487.20,336.00 500.80,331.50 514.40,343.30 528.00,337.60 541.60,340.70 555.20,350.90 568.80,349.70 582.40,352.40 596.00,349.50 609.60,350.70 623.20,352.40 636.80,356.00 650.40,355.00 664.00,347.30 677.60,352.70" fill="none" stroke="#4F81BD" stroke-width="1.90" stroke-linejoin="round" stroke-linecap="butt"/>
<polyline points="419.20,366.70 432.80,366.80 446.40,367.30 460.00,367.70 473.60,368.40 487.20,367.40 500.80,368.00 514.40,368.90 528.00,369.90 541.60,368.90 555.20,367.70 568.80,369.50 582.40,369.50 596.00,368.90 609.60,369.30 623.20,369.50 636.80,368.90 650.40,368.90 664.00,368.00 677.60,367.00" fill="none" stroke="#C0504D" stroke-width="1.90" stroke-linejoin="round" stroke-linecap="butt"/>
<polyline points="419.20,357.00 432.80,362.90 446.40,357.90 460.00,359.70 473.60,358.20 487.20,362.60 500.80,363.30 514.40,362.90 528.00,362.90 541.60,363.80 555.20,362.60 568.80,364.50 582.40,358.90 596.00,360.80 609.60,363.00 623.20,357.90 636.80,365.90 650.40,357.90 664.00,355.00 677.60,359.20" fill="none" stroke="#9BBB59" stroke-width="1.90" stroke-linejoin="round" stroke-linecap="butt"/>
<polyline points="419.20,311.20 432.80,305.70 446.40,302.70 460.00,294.40 473.60,311.20 487.20,303.50 500.80,305.70 514.40,304.40 528.00,325.40 541.60,323.60 555.20,321.70 568.80,326.40 582.40,329.30 596.00,332.90 609.60,328.60 623.20,330.00 636.80,334.90 650.40,324.30 664.00,331.20 677.60,310.80" fill="none" stroke="#8064A2" stroke-width="1.90" stroke-linejoin="round" stroke-linecap="butt"/>
<line x1="49.3" y1="515.60" x2="322.1" y2="515.60" stroke="#E2E2E2" stroke-width="1"/>
<line x1="49.3" y1="497.80" x2="322.1" y2="497.80" stroke="#E2E2E2" stroke-width="1"/>
<line x1="49.3" y1="480.00" x2="322.1" y2="480.00" stroke="#E2E2E2" stroke-width="1"/>
<line x1="49.3" y1="462.20" x2="322.1" y2="462.20" stroke="#E2E2E2" stroke-width="1"/>
<line x1="49.3" y1="444.40" x2="322.1" y2="444.40" stroke="#E2E2E2" stroke-width="1"/>
<line x1="49.3" y1="426.60" x2="322.1" y2="426.60" stroke="#E2E2E2" stroke-width="1"/>
<text x="43.4" y="517.90" text-anchor="end" font-size="6.40">0.00</text>
<text x="43.4" y="500.10" text-anchor="end" font-size="6.40">0.05</text>
<text x="43.4" y="482.30" text-anchor="end" font-size="6.40">0.10</text>
<text x="43.4" y="464.50" text-anchor="end" font-size="6.40">0.15</text>
<text x="43.4" y="446.70" text-anchor="end" font-size="6.40">0.20</text>
<text x="43.4" y="428.90" text-anchor="end" font-size="6.40">0.25</text>
<text x="57.3" y="525.8" text-anchor="end" class="xl" font-size="7.40" textLength="30.0" lengthAdjust="spacingAndGlyphs" transform="rotate(-45 57.3 525.8)">1999/2000</text>
<text x="71.0" y="525.8" text-anchor="end" class="xl" font-size="7.40" textLength="30.0" lengthAdjust="spacingAndGlyphs" transform="rotate(-45 71.0 525.8)">2000/2001</text>
<text x="84.7" y="525.8" text-anchor="end" class="xl" font-size="7.40" textLength="30.0" lengthAdjust="spacingAndGlyphs" transform="rotate(-45 84.7 525.8)">2001/2002</text>
<text x="98.3" y="525.8" text-anchor="end" class="xl" font-size="7.40" textLength="30.0" lengthAdjust="spacingAndGlyphs" transform="rotate(-45 98.3 525.8)">2002/2003</text>
<text x="112.0" y="525.8" text-anchor="end" class="xl" font-size="7.40" textLength="30.0" lengthAdjust="spacingAndGlyphs" transform="rotate(-45 112.0 525.8)">2003/2004</text>
<text x="125.7" y="525.8" text-anchor="end" class="xl" font-size="7.40" textLength="30.0" lengthAdjust="spacingAndGlyphs" transform="rotate(-45 125.7 525.8)">2004/2005</text>
<text x="139.4" y="525.8" text-anchor="end" class="xl" font-size="7.40" textLength="30.0" lengthAdjust="spacingAndGlyphs" transform="rotate(-45 139.4 525.8)">2005/2006</text>
<text x="153.1" y="525.8" text-anchor="end" class="xl" font-size="7.40" textLength="30.0" lengthAdjust="spacingAndGlyphs" transform="rotate(-45 153.1 525.8)">2006/2007</text>
<text x="166.7" y="525.8" text-anchor="end" class="xl" font-size="7.40" textLength="30.0" lengthAdjust="spacingAndGlyphs" transform="rotate(-45 166.7 525.8)">2007/2008</text>
<text x="180.4" y="525.8" text-anchor="end" class="xl" font-size="7.40" textLength="30.0" lengthAdjust="spacingAndGlyphs" transform="rotate(-45 180.4 525.8)">2008/2009</text>
<text x="194.1" y="525.8" text-anchor="end" class="xl" font-size="7.40" textLength="30.0" lengthAdjust="spacingAndGlyphs" transform="rotate(-45 194.1 525.8)">2009/2010</text>
<text x="207.8" y="525.8" text-anchor="end" class="xl" font-size="7.40" textLength="30.0" lengthAdjust="spacingAndGlyphs" transform="rotate(-45 207.8 525.8)">2010/2011</text>
<text x="221.5" y="525.8" text-anchor="end" class="xl" font-size="7.40" textLength="30.0" lengthAdjust="spacingAndGlyphs" transform="rotate(-45 221.5 525.8)">2011/2012</text>
<text x="235.1" y="525.8" text-anchor="end" class="xl" font-size="7.40" textLength="30.0" lengthAdjust="spacingAndGlyphs" transform="rotate(-45 235.1 525.8)">2012/2013</text>
<text x="248.8" y="525.8" text-anchor="end" class="xl" font-size="7.40" textLength="30.0" lengthAdjust="spacingAndGlyphs" transform="rotate(-45 248.8 525.8)">2013/2014</text>
<text x="262.5" y="525.8" text-anchor="end" class="xl" font-size="7.40" textLength="30.0" lengthAdjust="spacingAndGlyphs" transform="rotate(-45 262.5 525.8)">2014/2015</text>
<text x="276.2" y="525.8" text-anchor="end" class="xl" font-size="7.40" textLength="30.0" lengthAdjust="spacingAndGlyphs" transform="rotate(-45 276.2 525.8)">2015/2016</text>
<text x="289.9" y="525.8" text-anchor="end" class="xl" font-size="7.40" textLength="30.0" lengthAdjust="spacingAndGlyphs" transform="rotate(-45 289.9 525.8)">2016/2017</text>
<text x="303.5" y="525.8" text-anchor="end" class="xl" font-size="7.40" textLength="30.0" lengthAdjust="spacingAndGlyphs" transform="rotate(-45 303.5 525.8)">2017/2018</text>
<text x="317.2" y="525.8" text-anchor="end" class="xl" font-size="7.40" textLength="30.0" lengthAdjust="spacingAndGlyphs" transform="rotate(-45 317.2 525.8)">2018/2019</text>
<text x="6.7" y="485.3" text-anchor="middle" font-size="7.50" transform="rotate(-90 6.7 485.3)" textLength="97.5" lengthAdjust="spacingAndGlyphs">Rates of hospital admission for</text>
<text x="16.3" y="485.3" text-anchor="middle" font-size="7.50" transform="rotate(-90 16.3 485.3)" textLength="112.5" lengthAdjust="spacingAndGlyphs">sequelae of infectious and parasitic</text>
<text x="26.4" y="485.3" text-anchor="middle" font-size="7.50" transform="rotate(-90 26.4 485.3)" textLength="94.8" lengthAdjust="spacingAndGlyphs">diseases per 100,000 persons</text>
<text x="185.8" y="557.1" text-anchor="middle" font-size="7.70" textLength="14.5" lengthAdjust="spacingAndGlyphs">Year</text>
<polyline points="55.90,511.70 69.58,511.70 83.26,496.90 96.94,499.90 110.62,503.20 124.30,511.20 137.98,514.90 151.66,507.60 165.34,515.30 179.02,515.30 192.70,515.30 206.38,515.30 220.06,515.30 233.74,515.30 247.42,515.30 261.10,515.30 274.78,515.30 288.46,515.30 302.14,515.30 315.82,515.30" fill="none" stroke="#4F81BD" stroke-width="1.90" stroke-linejoin="round" stroke-linecap="butt"/>
<polyline points="55.90,500.30 69.58,503.90 83.26,509.10 96.94,510.50 110.62,503.90 124.30,513.40 137.98,513.40 151.66,510.50 165.34,509.80 179.02,512.00 192.70,515.20 206.38,515.20 220.06,515.20 233.74,515.20 247.42,515.20 261.10,513.60 274.78,515.20 288.46,515.20 302.14,515.20 315.82,515.20" fill="none" stroke="#C0504D" stroke-width="1.90" stroke-linejoin="round" stroke-linecap="butt"/>
<polyline points="55.90,464.50 69.58,453.90 83.26,484.20 96.94,495.20 110.62,470.40 124.30,495.20 137.98,508.30 151.66,514.60 165.34,507.30 179.02,492.60 192.70,515.20 206.38,510.80 220.06,515.40 233.74,515.40 247.42,515.40 261.10,515.40 274.78,515.40 288.46,515.40 302.14,515.40 315.82,515.40" fill="none" stroke="#9BBB59" stroke-width="1.90" stroke-linejoin="round" stroke-linecap="butt"/>
<polyline points="55.90,487.90 69.58,470.40 83.26,444.50 96.94,497.40 110.62,515.00 124.30,506.40 137.98,506.40 151.66,515.00 165.34,515.00 179.02,506.90 192.70,515.00 206.38,507.20 220.06,507.20 233.74,515.30 247.42,515.30 261.10,515.00 274.78,507.60 288.46,500.30 302.14,515.30 315.82,515.30" fill="none" stroke="#8064A2" stroke-width="1.90" stroke-linejoin="round" stroke-linecap="butt"/>
<line x1="398.3" y1="515.60" x2="670.8" y2="515.60" stroke="#E2E2E2" stroke-width="1"/>
<line x1="398.3" y1="497.80" x2="670.8" y2="497.80" stroke="#E2E2E2" stroke-width="1"/>
<line x1="398.3" y1="480.00" x2="670.8" y2="480.00" stroke="#E2E2E2" stroke-width="1"/>
<line x1="398.3" y1="462.20" x2="670.8" y2="462.20" stroke="#E2E2E2" stroke-width="1"/>
<line x1="398.3" y1="444.40" x2="670.8" y2="444.40" stroke="#E2E2E2" stroke-width="1"/>
<line x1="398.3" y1="426.60" x2="670.8" y2="426.60" stroke="#E2E2E2" stroke-width="1"/>
<text x="391.7" y="517.90" text-anchor="end" font-size="6.40">0.00</text>
<text x="391.7" y="500.10" text-anchor="end" font-size="6.40">0.50</text>
<text x="391.7" y="482.30" text-anchor="end" font-size="6.40">1.00</text>
<text x="391.7" y="464.50" text-anchor="end" font-size="6.40">1.50</text>
<text x="391.7" y="446.70" text-anchor="end" font-size="6.40">2.00</text>
<text x="391.7" y="428.90" text-anchor="end" font-size="6.40">2.50</text>
<text x="405.8" y="525.8" text-anchor="end" class="xl" font-size="7.40" textLength="30.0" lengthAdjust="spacingAndGlyphs" transform="rotate(-45 405.8 525.8)">1999/2000</text>
<text x="419.4" y="525.8" text-anchor="end" class="xl" font-size="7.40" textLength="30.0" lengthAdjust="spacingAndGlyphs" transform="rotate(-45 419.4 525.8)">2000/2001</text>
<text x="433.1" y="525.8" text-anchor="end" class="xl" font-size="7.40" textLength="30.0" lengthAdjust="spacingAndGlyphs" transform="rotate(-45 433.1 525.8)">2001/2002</text>
<text x="446.7" y="525.8" text-anchor="end" class="xl" font-size="7.40" textLength="30.0" lengthAdjust="spacingAndGlyphs" transform="rotate(-45 446.7 525.8)">2002/2003</text>
<text x="460.4" y="525.8" text-anchor="end" class="xl" font-size="7.40" textLength="30.0" lengthAdjust="spacingAndGlyphs" transform="rotate(-45 460.4 525.8)">2003/2004</text>
<text x="474.0" y="525.8" text-anchor="end" class="xl" font-size="7.40" textLength="30.0" lengthAdjust="spacingAndGlyphs" transform="rotate(-45 474.0 525.8)">2004/2005</text>
<text x="487.7" y="525.8" text-anchor="end" class="xl" font-size="7.40" textLength="30.0" lengthAdjust="spacingAndGlyphs" transform="rotate(-45 487.7 525.8)">2005/2006</text>
<text x="501.3" y="525.8" text-anchor="end" class="xl" font-size="7.40" textLength="30.0" lengthAdjust="spacingAndGlyphs" transform="rotate(-45 501.3 525.8)">2006/2007</text>
<text x="515.0" y="525.8" text-anchor="end" class="xl" font-size="7.40" textLength="30.0" lengthAdjust="spacingAndGlyphs" transform="rotate(-45 515.0 525.8)">2007/2008</text>
<text x="528.6" y="525.8" text-anchor="end" class="xl" font-size="7.40" textLength="30.0" lengthAdjust="spacingAndGlyphs" transform="rotate(-45 528.6 525.8)">2008/2009</text>
<text x="542.3" y="525.8" text-anchor="end" class="xl" font-size="7.40" textLength="30.0" lengthAdjust="spacingAndGlyphs" transform="rotate(-45 542.3 525.8)">2009/2010</text>
<text x="555.9" y="525.8" text-anchor="end" class="xl" font-size="7.40" textLength="30.0" lengthAdjust="spacingAndGlyphs" transform="rotate(-45 555.9 525.8)">2010/2011</text>
<text x="569.6" y="525.8" text-anchor="end" class="xl" font-size="7.40" textLength="30.0" lengthAdjust="spacingAndGlyphs" transform="rotate(-45 569.6 525.8)">2011/2012</text>
<text x="583.2" y="525.8" text-anchor="end" class="xl" font-size="7.40" textLength="30.0" lengthAdjust="spacingAndGlyphs" transform="rotate(-45 583.2 525.8)">2012/2013</text>
<text x="596.9" y="525.8" text-anchor="end" class="xl" font-size="7.40" textLength="30.0" lengthAdjust="spacingAndGlyphs" transform="rotate(-45 596.9 525.8)">2013/2014</text>
<text x="610.5" y="525.8" text-anchor="end" class="xl" font-size="7.40" textLength="30.0" lengthAdjust="spacingAndGlyphs" transform="rotate(-45 610.5 525.8)">2014/2015</text>
<text x="624.2" y="525.8" text-anchor="end" class="xl" font-size="7.40" textLength="30.0" lengthAdjust="spacingAndGlyphs" transform="rotate(-45 624.2 525.8)">2015/2016</text>
<text x="637.9" y="525.8" text-anchor="end" class="xl" font-size="7.40" textLength="30.0" lengthAdjust="spacingAndGlyphs" transform="rotate(-45 637.9 525.8)">2016/2017</text>
<text x="651.5" y="525.8" text-anchor="end" class="xl" font-size="7.40" textLength="30.0" lengthAdjust="spacingAndGlyphs" transform="rotate(-45 651.5 525.8)">2017/2018</text>
<text x="665.1" y="525.8" text-anchor="end" class="xl" font-size="7.40" textLength="30.0" lengthAdjust="spacingAndGlyphs" transform="rotate(-45 665.1 525.8)">2018/2019</text>
<text x="355.3" y="485.5" text-anchor="middle" font-size="7.50" transform="rotate(-90 355.3 485.5)" textLength="98.2" lengthAdjust="spacingAndGlyphs">Rates of hospital admission for</text>
<text x="364.9" y="485.5" text-anchor="middle" font-size="7.50" transform="rotate(-90 364.9 485.5)" textLength="113.0" lengthAdjust="spacingAndGlyphs">bacterial and viral infectious agents</text>
<text x="375.0" y="485.5" text-anchor="middle" font-size="7.50" transform="rotate(-90 375.0 485.5)" textLength="64.8" lengthAdjust="spacingAndGlyphs">per 100,000 persons</text>
<text x="534.4" y="557.8" text-anchor="middle" font-size="7.70" textLength="14.5" lengthAdjust="spacingAndGlyphs">Year</text>
<polyline points="404.40,469.60 418.05,464.80 431.70,464.80 445.35,473.30 459.00,487.90 472.65,501.80 486.30,507.20 499.95,505.70 513.60,510.10 527.25,498.50 540.90,507.20 554.55,510.20 568.20,511.20 581.85,513.00 595.50,512.70 609.15,514.90 622.80,515.20 636.45,515.20 650.10,514.80 663.75,514.80" fill="none" stroke="#4F81BD" stroke-width="1.90" stroke-linejoin="round" stroke-linecap="butt"/>
<polyline points="404.40,493.30 418.05,487.40 431.70,496.60 445.35,501.80 459.00,502.00 472.65,503.20 486.30,505.80 499.95,501.00 513.60,505.40 527.25,506.90 540.90,512.30 554.55,513.40 568.20,512.70 581.85,514.20 595.50,513.60 609.15,513.40 622.80,513.40 636.45,514.90 650.10,515.20 663.75,514.90" fill="none" stroke="#C0504D" stroke-width="1.90" stroke-linejoin="round" stroke-linecap="butt"/>
<polyline points="404.40,481.60 418.05,479.40 431.70,487.20 445.35,494.90 459.00,497.70 472.65,500.60 486.30,501.50 499.95,491.10 513.60,491.80 527.25,502.50 540.90,509.10 554.55,511.50 568.20,508.30 581.85,512.70 595.50,511.70 609.15,511.70 622.80,510.80 636.45,510.20 650.10,514.90 663.75,514.20" fill="none" stroke="#9BBB59" stroke-width="1.90" stroke-linejoin="round" stroke-linecap="butt"/>
<polyline points="404.40,445.50 418.05,455.80 431.70,460.10 445.35,467.40 459.00,473.30 472.65,492.60 486.30,483.50 499.95,472.10 513.60,471.80 527.25,474.70 540.90,493.00 554.55,511.50 568.20,506.40 581.85,508.60 595.50,508.00 609.15,488.60 622.80,478.00 636.45,476.60 650.10,510.80 663.75,508.00" fill="none" stroke="#8064A2" stroke-width="1.90" stroke-linejoin="round" stroke-linecap="butt"/>
<line x1="53.3" y1="657.30" x2="322.2" y2="657.30" stroke="#E2E2E2" stroke-width="1"/>
<line x1="53.3" y1="642.50" x2="322.2" y2="642.50" stroke="#E2E2E2" stroke-width="1"/>
<line x1="53.3" y1="627.70" x2="322.2" y2="627.70" stroke="#E2E2E2" stroke-width="1"/>
<line x1="53.3" y1="612.90" x2="322.2" y2="612.90" stroke="#E2E2E2" stroke-width="1"/>
<line x1="53.3" y1="598.10" x2="322.2" y2="598.10" stroke="#E2E2E2" stroke-width="1"/>
<line x1="53.3" y1="583.30" x2="322.2" y2="583.30" stroke="#E2E2E2" stroke-width="1"/>
<line x1="53.3" y1="568.50" x2="322.2" y2="568.50" stroke="#E2E2E2" stroke-width="1"/>
<text x="46.0" y="659.60" text-anchor="end" font-size="6.40">0.00</text>
<text x="46.0" y="644.80" text-anchor="end" font-size="6.40">10.00</text>
<text x="46.0" y="630.00" text-anchor="end" font-size="6.40">20.00</text>
<text x="46.0" y="615.20" text-anchor="end" font-size="6.40">30.00</text>
<text x="46.0" y="600.40" text-anchor="end" font-size="6.40">40.00</text>
<text x="46.0" y="585.60" text-anchor="end" font-size="6.40">50.00</text>
<text x="46.0" y="570.80" text-anchor="end" font-size="6.40">60.00</text>
<text x="60.2" y="667.5" text-anchor="end" class="xl" font-size="7.40" textLength="30.0" lengthAdjust="spacingAndGlyphs" transform="rotate(-45 60.2 667.5)">1999/2000</text>
<text x="73.7" y="667.5" text-anchor="end" class="xl" font-size="7.40" textLength="30.0" lengthAdjust="spacingAndGlyphs" transform="rotate(-45 73.7 667.5)">2000/2001</text>
<text x="87.2" y="667.5" text-anchor="end" class="xl" font-size="7.40" textLength="30.0" lengthAdjust="spacingAndGlyphs" transform="rotate(-45 87.2 667.5)">2001/2002</text>
<text x="100.7" y="667.5" text-anchor="end" class="xl" font-size="7.40" textLength="30.0" lengthAdjust="spacingAndGlyphs" transform="rotate(-45 100.7 667.5)">2002/2003</text>
<text x="114.2" y="667.5" text-anchor="end" class="xl" font-size="7.40" textLength="30.0" lengthAdjust="spacingAndGlyphs" transform="rotate(-45 114.2 667.5)">2003/2004</text>
<text x="127.7" y="667.5" text-anchor="end" class="xl" font-size="7.40" textLength="30.0" lengthAdjust="spacingAndGlyphs" transform="rotate(-45 127.7 667.5)">2004/2005</text>
<text x="141.2" y="667.5" text-anchor="end" class="xl" font-size="7.40" textLength="30.0" lengthAdjust="spacingAndGlyphs" transform="rotate(-45 141.2 667.5)">2005/2006</text>
<text x="154.7" y="667.5" text-anchor="end" class="xl" font-size="7.40" textLength="30.0" lengthAdjust="spacingAndGlyphs" transform="rotate(-45 154.7 667.5)">2006/2007</text>
<text x="168.2" y="667.5" text-anchor="end" class="xl" font-size="7.40" textLength="30.0" lengthAdjust="spacingAndGlyphs" transform="rotate(-45 168.2 667.5)">2007/2008</text>
<text x="181.7" y="667.5" text-anchor="end" class="xl" font-size="7.40" textLength="30.0" lengthAdjust="spacingAndGlyphs" transform="rotate(-45 181.7 667.5)">2008/2009</text>
<text x="195.2" y="667.5" text-anchor="end" class="xl" font-size="7.40" textLength="30.0" lengthAdjust="spacingAndGlyphs" transform="rotate(-45 195.2 667.5)">2009/2010</text>
<text x="208.7" y="667.5" text-anchor="end" class="xl" font-size="7.40" textLength="30.0" lengthAdjust="spacingAndGlyphs" transform="rotate(-45 208.7 667.5)">2010/2011</text>
<text x="222.2" y="667.5" text-anchor="end" class="xl" font-size="7.40" textLength="30.0" lengthAdjust="spacingAndGlyphs" transform="rotate(-45 222.2 667.5)">2011/2012</text>
<text x="235.7" y="667.5" text-anchor="end" class="xl" font-size="7.40" textLength="30.0" lengthAdjust="spacingAndGlyphs" transform="rotate(-45 235.7 667.5)">2012/2013</text>
<text x="249.2" y="667.5" text-anchor="end" class="xl" font-size="7.40" textLength="30.0" lengthAdjust="spacingAndGlyphs" transform="rotate(-45 249.2 667.5)">2013/2014</text>
<text x="262.7" y="667.5" text-anchor="end" class="xl" font-size="7.40" textLength="30.0" lengthAdjust="spacingAndGlyphs" transform="rotate(-45 262.7 667.5)">2014/2015</text>
<text x="276.2" y="667.5" text-anchor="end" class="xl" font-size="7.40" textLength="30.0" lengthAdjust="spacingAndGlyphs" transform="rotate(-45 276.2 667.5)">2015/2016</text>
<text x="289.7" y="667.5" text-anchor="end" class="xl" font-size="7.40" textLength="30.0" lengthAdjust="spacingAndGlyphs" transform="rotate(-45 289.7 667.5)">2016/2017</text>
<text x="303.2" y="667.5" text-anchor="end" class="xl" font-size="7.40" textLength="30.0" lengthAdjust="spacingAndGlyphs" transform="rotate(-45 303.2 667.5)">2017/2018</text>
<text x="316.7" y="667.5" text-anchor="end" class="xl" font-size="7.40" textLength="30.0" lengthAdjust="spacingAndGlyphs" transform="rotate(-45 316.7 667.5)">2018/2019</text>
<text x="7.0" y="620.2" text-anchor="middle" font-size="7.50" transform="rotate(-90 7.0 620.2)" textLength="97.9" lengthAdjust="spacingAndGlyphs">Rates of hospital admission for</text>
<text x="17.0" y="620.2" text-anchor="middle" font-size="7.50" transform="rotate(-90 17.0 620.2)" textLength="91.7" lengthAdjust="spacingAndGlyphs">other infectious diseases per</text>
<text x="26.4" y="620.2" text-anchor="middle" font-size="7.50" transform="rotate(-90 26.4 620.2)" textLength="52.8" lengthAdjust="spacingAndGlyphs">100,000 persons</text>
<text x="187.0" y="698.9" text-anchor="middle" font-size="7.70" textLength="14.5" lengthAdjust="spacingAndGlyphs">Year</text>
<polyline points="58.80,657.00 72.30,657.00 85.80,657.10 99.30,657.10 112.80,657.10 126.30,657.00 139.80,657.00 153.30,657.00 166.80,657.00 180.30,657.00 193.80,657.00 207.30,657.00 220.80,656.90 234.30,656.80 247.80,656.80 261.30,656.80 274.80,656.70 288.30,656.40 301.80,656.20 315.30,655.60" fill="none" stroke="#4F81BD" stroke-width="1.90" stroke-linejoin="round" stroke-linecap="butt"/>
<polyline points="58.80,657.30 72.30,657.30 85.80,657.30 99.30,657.30 112.80,657.30 126.30,657.30 139.80,657.20 153.30,657.20 166.80,657.20 180.30,657.20 193.80,657.10 207.30,657.10 220.80,657.10 234.30,657.10 247.80,656.80 261.30,656.60 274.80,656.50 288.30,655.90 301.80,654.60 315.30,652.20" fill="none" stroke="#C0504D" stroke-width="1.90" stroke-linejoin="round" stroke-linecap="butt"/>
<polyline points="58.80,656.00 72.30,656.00 85.80,656.10 99.30,656.30 112.80,656.30 126.30,656.20 139.80,656.00 153.30,656.00 166.80,655.90 180.30,655.70 193.80,655.50 207.30,655.30 220.80,654.90 234.30,654.40 247.80,654.10 261.30,653.80 274.80,653.00 288.30,651.20 301.80,646.50 315.30,635.60" fill="none" stroke="#9BBB59" stroke-width="1.90" stroke-linejoin="round" stroke-linecap="butt"/>
<polyline points="58.80,653.80 72.30,654.00 85.80,654.40 99.30,655.10 112.80,655.00 126.30,653.40 139.80,652.90 153.30,653.10 166.80,651.70 180.30,653.10 193.80,652.00 207.30,650.70 220.80,650.00 234.30,648.60 247.80,646.60 261.30,644.90 274.80,641.70 288.30,633.40 301.80,616.00 315.30,574.60" fill="none" stroke="#8064A2" stroke-width="1.90" stroke-linejoin="round" stroke-linecap="butt"/>
<line x1="390.1" y1="606.0" x2="405.4" y2="606.0" stroke="#4F81BD" stroke-width="1.60"/>
<text x="406.9" y="608.1" font-size="6.7" textLength="74.2" lengthAdjust="spacingAndGlyphs">Age group (Below 15 years)</text>
<line x1="493.9" y1="606.0" x2="509.3" y2="606.0" stroke="#C0504D" stroke-width="1.60"/>
<text x="510.8" y="608.1" font-size="6.7" textLength="65.0" lengthAdjust="spacingAndGlyphs">Age group (15-59 years)</text>
<line x1="390.1" y1="618.4" x2="405.4" y2="618.4" stroke="#9BBB59" stroke-width="1.60"/>
<text x="406.9" y="620.5" font-size="6.7" textLength="64.2" lengthAdjust="spacingAndGlyphs">Age group (60-74 years)</text>
<line x1="493.9" y1="618.4" x2="509.3" y2="618.4" stroke="#8064A2" stroke-width="1.60"/>
<text x="510.8" y="620.5" font-size="6.7" textLength="85.5" lengthAdjust="spacingAndGlyphs">Age group (75 years and above)</text>
</svg>
</body></html>
